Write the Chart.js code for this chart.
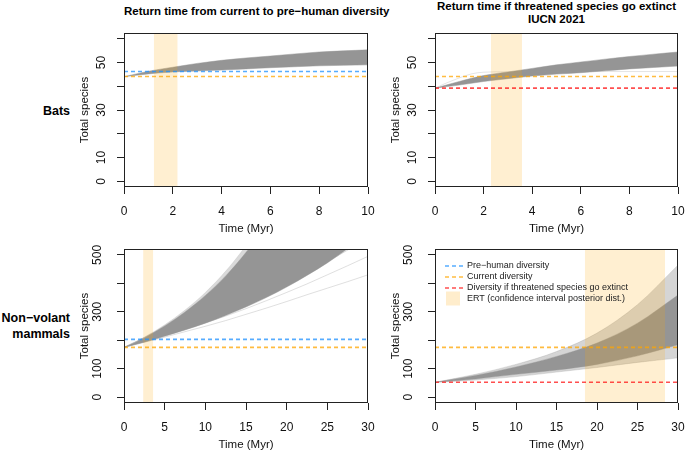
<!DOCTYPE html>
<html>
<head>
<meta charset="utf-8">
<script src="https://cdn.jsdelivr.net/npm/chart.js@4.4.0/dist/chart.umd.min.js"></script>
<style>
body{margin:0;width:685px;height:451px;overflow:hidden;background:#fff;position:relative;font-family:"Liberation Sans",Arial,sans-serif}
canvas{position:absolute}
.lbl{position:absolute;font-weight:bold;color:#000;white-space:nowrap}
</style>
</head>
<body>
<div class="lbl" style="left:124px;width:244px;top:5px;text-align:center;font-size:11.5px;line-height:13px">Return time from current to pre−human diversity</div>
<div class="lbl" style="left:435px;width:243px;top:0px;text-align:center;font-size:11.5px;line-height:13px">Return time if threatened species go extinct<br>IUCN 2021</div>
<div class="lbl" style="left:0;width:70px;top:103px;text-align:right;font-size:12.5px;line-height:16px">Bats</div>
<div class="lbl" style="left:0;width:70px;top:310px;text-align:right;font-size:12.5px;line-height:16px">Non−volant<br>mammals</div>

<canvas id="batsNow" width="320" height="240" style="left:60px;top:0px"></canvas>
<canvas id="batsThr" width="319" height="240" style="left:371px;top:0px"></canvas>
<canvas id="mamNow" width="320" height="240" style="left:60px;top:216px"></canvas>
<canvas id="mamThr" width="319" height="240" style="left:371px;top:216px"></canvas>

<script>
var font = '"Liberation Sans", Arial, sans-serif';

// time grids (Myr)
var tBats = [0, 1, 2, 3, 4, 5, 6, 7, 8, 9, 10];
var tMam = [0, 2.5, 5, 7.5, 10, 12.5, 15, 17.5, 20, 22.5, 25, 27.5, 30];
var tMamThr = [0, 5, 10, 15, 20, 25, 30];
var tPlateau = [0, 0.5, 1, 1.5, 2, 3, 10];

// bats: current -> pre-human (envelope of the trajectories)
var batsNowUpper = [44, 46.3, 48.0, 49.6, 50.9, 51.9, 52.7, 53.6, 54.4, 54.9, 55.3];
var batsNowLower = [44, 45.2, 46.0, 46.4, 46.8, 47.3, 47.8, 48.2, 48.6, 48.8, 49.0];

// bats: threatened extinct
var batsThrUpper = [39.2, 42.0, 44.5, 46.0, 47.5, 49.0, 50.2, 51.4, 52.5, 53.5, 54.4];
var batsThrLower = [39.2, 40.5, 42.0, 43.2, 44.3, 45.1, 45.7, 46.5, 47.3, 47.9, 48.5];
var batsThrPlateau = [39.2, 41.5, 43.5, 45.2, 45.9, 46.1, 46.2];

// non-volant: current -> pre-human
var mamNowFringe = [175, 211, 254, 306, 368, 443, 533, 640, 770, 925, 1110, 1330, 1600];
var mamNowUpper = [175, 209, 250, 299, 357, 426, 509, 608, 727, 868, 1037, 1239, 1480];
var mamNowLower = [175, 193, 214, 236, 260, 287, 317, 350, 387, 428, 472, 522, 577];
var mamNowFaint1 = [175, 197, 220, 245, 272, 301, 332, 365, 400, 437, 476, 517, 560];
var mamNowFaint2 = [175, 195, 216, 238, 261, 285, 311, 339, 368, 398, 430, 462, 495];
var mamNowFaint3 = [175, 193, 211, 230, 249, 269, 291, 313, 336, 360, 383, 406, 430];

// non-volant: threatened extinct
var mamThrLightUpper = [52, 80, 115, 160, 225, 325, 464];
var mamThrDarkUpper = [52, 76, 106, 143, 190, 260, 359];
var mamThrDarkLower = [52, 64, 80, 95, 115, 145, 184];
var mamThrLightLower = [52, 60, 72, 88, 104, 122, 138];

// reference diversities
var batsPreHuman = 46.2, batsCurrent = 44.1, batsThreat = 39.2;
var mamPreHuman = 203, mamCurrent = 175, mamThreat = 52;

// ERT intervals
var ertBatsNow = [1.22, 2.2];
var ertBatsThr = [2.3, 3.58];
var ertMamNow = [2.35, 3.6];
var ertMamThr = [18.5, 28.4];

// ticks
var batsXTicks = [0, 2, 4, 6, 8, 10];
var mamXTicks = [0, 5, 10, 15, 20, 25, 30];
var batsYTicks = [0, 10, 20, 30, 40, 50, 60];
var batsYLabels = ['0', '10', '', '30', '', '50', ''];
var mamYTicks = [0, 100, 200, 300, 400, 500];
var mamYLabels = ['0', '100', '', '300', '', '500'];

var legendItems = ['Pre−human diversity', 'Current diversity', 'Diversity if threatened species go extinct', 'ERT (confidence interval posterior dist.)'];

var BLUE = 'rgba(30,144,255,0.75)';
var ORANGE = 'rgba(255,165,0,0.75)';
var RED = 'rgba(255,20,20,0.75)';
var ERT = 'rgba(255,165,0,0.18)';
var GREY = '#959595';

function pts(xs, ys) {
    return xs.map(function (x, i) { return {x: x, y: ys[i]}; });
}

var boxPlugin = {
    id: 'box',
    afterDraw: function (chart) {
        var a = chart.chartArea, c = chart.ctx;
        c.save();
        c.strokeStyle = '#222';
        c.lineWidth = 1;
        c.strokeRect(Math.round(a.left) + 0.5, Math.round(a.top) + 0.5,
            Math.round(a.right - a.left) - 1, Math.round(a.bottom - a.top) - 1);
        c.restore();
    }
};

var legendPlugin = {
    id: 'rlegend',
    afterDraw: function (chart, args, opts) {
        if (!opts.show) return;
        var c = chart.ctx;
        var cols = [BLUE, ORANGE, RED];
        var rows = [50, 61, 72, 82.5];
        c.save();
        c.font = '9px ' + font;
        c.textBaseline = 'middle';
        c.fillStyle = '#222';
        for (var i = 0; i < 4; i++) {
            if (i < 3) {
                c.strokeStyle = cols[i];
                c.lineWidth = 1.5;
                c.setLineDash([4, 3]);
                c.beginPath();
                c.moveTo(74, rows[i]);
                c.lineTo(92, rows[i]);
                c.stroke();
            } else {
                c.fillStyle = 'rgba(255,165,0,0.2)';
                c.fillRect(75, rows[i] - 7, 14, 14);
                c.fillStyle = '#222';
            }
            c.fillText(legendItems[i], 96, rows[i]);
        }
        c.restore();
    }
};

var makePanel = function (id, p) {
    var ds = [];
    p.hlines.forEach(function (h) {
        ds.push({data: [{x: 0, y: h[0]}, {x: p.xMax, y: h[0]}], borderColor: h[1],
            borderWidth: 1.6, borderDash: [4, 3], pointRadius: 0, fill: false});
    });
    ds.push({data: [{x: p.ert[0], y: p.yMax}, {x: p.ert[1], y: p.yMax}], borderWidth: 0,
        borderColor: 'rgba(0,0,0,0)', backgroundColor: ERT, fill: 'start', pointRadius: 0});
    (p.faint || []).forEach(function (f) {
        ds.push({data: pts(f[0], f[1]), borderColor: f[2], borderWidth: 1, pointRadius: 0,
            fill: false, cubicInterpolationMode: 'monotone'});
    });
    p.bands.forEach(function (b) {
        var lo = ds.length;
        ds.push({data: pts(b.t, b.lo), borderColor: b.edge, borderWidth: 0.8, pointRadius: 0,
            fill: false, cubicInterpolationMode: 'monotone'});
        ds.push({data: pts(b.t, b.hi), borderColor: b.edge, borderWidth: 0.8, pointRadius: 0,
            backgroundColor: b.color, fill: lo, cubicInterpolationMode: 'monotone'});
    });

    new Chart(document.getElementById(id), {
        type: 'line',
        data: {datasets: ds},
        plugins: [boxPlugin, legendPlugin],
        options: {
            responsive: false,
            animation: false,
            events: [],
            layout: {padding: {top: 33, right: p.padRight, bottom: 0, left: 0}},
            plugins: {legend: {display: false}, tooltip: {enabled: false}, rlegend: {show: !!p.legend}},
            scales: {
                x: {
                    type: 'linear', min: 0, max: p.xMax,
                    afterBuildTicks: function (s) { s.ticks = p.xTicks.map(function (v) { return {value: v}; }); },
                    afterFit: function (s) { s.height = 53; s.paddingLeft = 0; s.paddingRight = 0; },
                    grid: {drawOnChartArea: false, drawTicks: true, tickLength: 7, color: '#222'},
                    border: {display: false},
                    ticks: {color: '#111', font: {family: font, size: 12}, padding: 10, maxRotation: 0,
                        autoSkip: false, callback: function (v) { return String(v); }},
                    title: {display: true, text: 'Time (Myr)', color: '#111',
                        font: {family: font, size: 11.5}, padding: {top: 0, bottom: 4}}
                },
                y: {
                    type: 'linear', min: p.yMin, max: p.yMax,
                    afterBuildTicks: function (s) { s.ticks = p.yTicks.map(function (v) { return {value: v}; }); },
                    afterFit: function (s) { s.width = 64; s.paddingTop = 0; s.paddingBottom = 0; },
                    grid: {drawOnChartArea: false, drawTicks: true, tickLength: 7, color: '#222'},
                    border: {display: false},
                    ticks: {color: '#111', font: {family: font, size: 12}, padding: 9, minRotation: 90,
                        maxRotation: 90, crossAlign: 'center', autoSkip: false,
                        callback: function (v, i) { return p.yLabels[i]; }},
                    title: {display: true, text: 'Total species', color: '#111',
                        font: {family: font, size: 11.5}, padding: {top: 18, bottom: 0}}
                }
            }
        }
    });
};

makePanel('batsNow', {
    xMax: 10, yMin: -2.4, yMax: 62.4, padRight: 12,
    xTicks: batsXTicks, yTicks: batsYTicks, yLabels: batsYLabels,
    hlines: [[batsPreHuman, BLUE], [batsCurrent, ORANGE]],
    ert: ertBatsNow,
    bands: [{t: tBats, lo: batsNowLower, hi: batsNowUpper, color: GREY, edge: 'rgba(150,150,150,0.6)'}]
});

makePanel('batsThr', {
    xMax: 10, yMin: -2.4, yMax: 62.4, padRight: 12,
    xTicks: batsXTicks, yTicks: batsYTicks, yLabels: batsYLabels,
    hlines: [[batsCurrent, ORANGE], [batsThreat, RED]],
    ert: ertBatsThr,
    faint: [[tPlateau, batsThrPlateau, 'rgba(150,150,150,0.25)']],
    bands: [{t: tBats, lo: batsThrLower, hi: batsThrUpper, color: GREY, edge: 'rgba(150,150,150,0.6)'}]
});

makePanel('mamNow', {
    xMax: 30, yMin: -20.8, yMax: 520.8, padRight: 12,
    xTicks: mamXTicks, yTicks: mamYTicks, yLabels: mamYLabels,
    hlines: [[mamPreHuman, BLUE], [mamCurrent, ORANGE]],
    ert: ertMamNow,
    faint: [[tMam, mamNowFaint1, 'rgba(150,150,150,0.35)'],
            [tMam, mamNowFaint2, 'rgba(150,150,150,0.3)'],
            [tMam, mamNowFaint3, 'rgba(150,150,150,0.3)']],
    bands: [{t: tMam, lo: mamNowLower, hi: mamNowUpper, color: GREY, edge: 'rgba(150,150,150,0.5)'},
            {t: tMam, lo: mamNowUpper, hi: mamNowFringe, color: 'rgba(150,150,150,0.35)', edge: 'rgba(150,150,150,0.2)'}]
});

makePanel('mamThr', {
    xMax: 30, yMin: -20.8, yMax: 520.8, padRight: 12, legend: true,
    xTicks: mamXTicks, yTicks: mamYTicks, yLabels: mamYLabels,
    hlines: [[mamCurrent, ORANGE], [mamThreat, RED]],
    ert: ertMamThr,
    bands: [{t: tMamThr, lo: mamThrDarkLower, hi: mamThrDarkUpper, color: GREY, edge: 'rgba(150,150,150,0.5)'},
            {t: tMamThr, lo: mamThrLightLower, hi: mamThrLightUpper, color: 'rgba(150,150,150,0.4)', edge: 'rgba(150,150,150,0.35)'}]
});
</script>
</body>
</html>
